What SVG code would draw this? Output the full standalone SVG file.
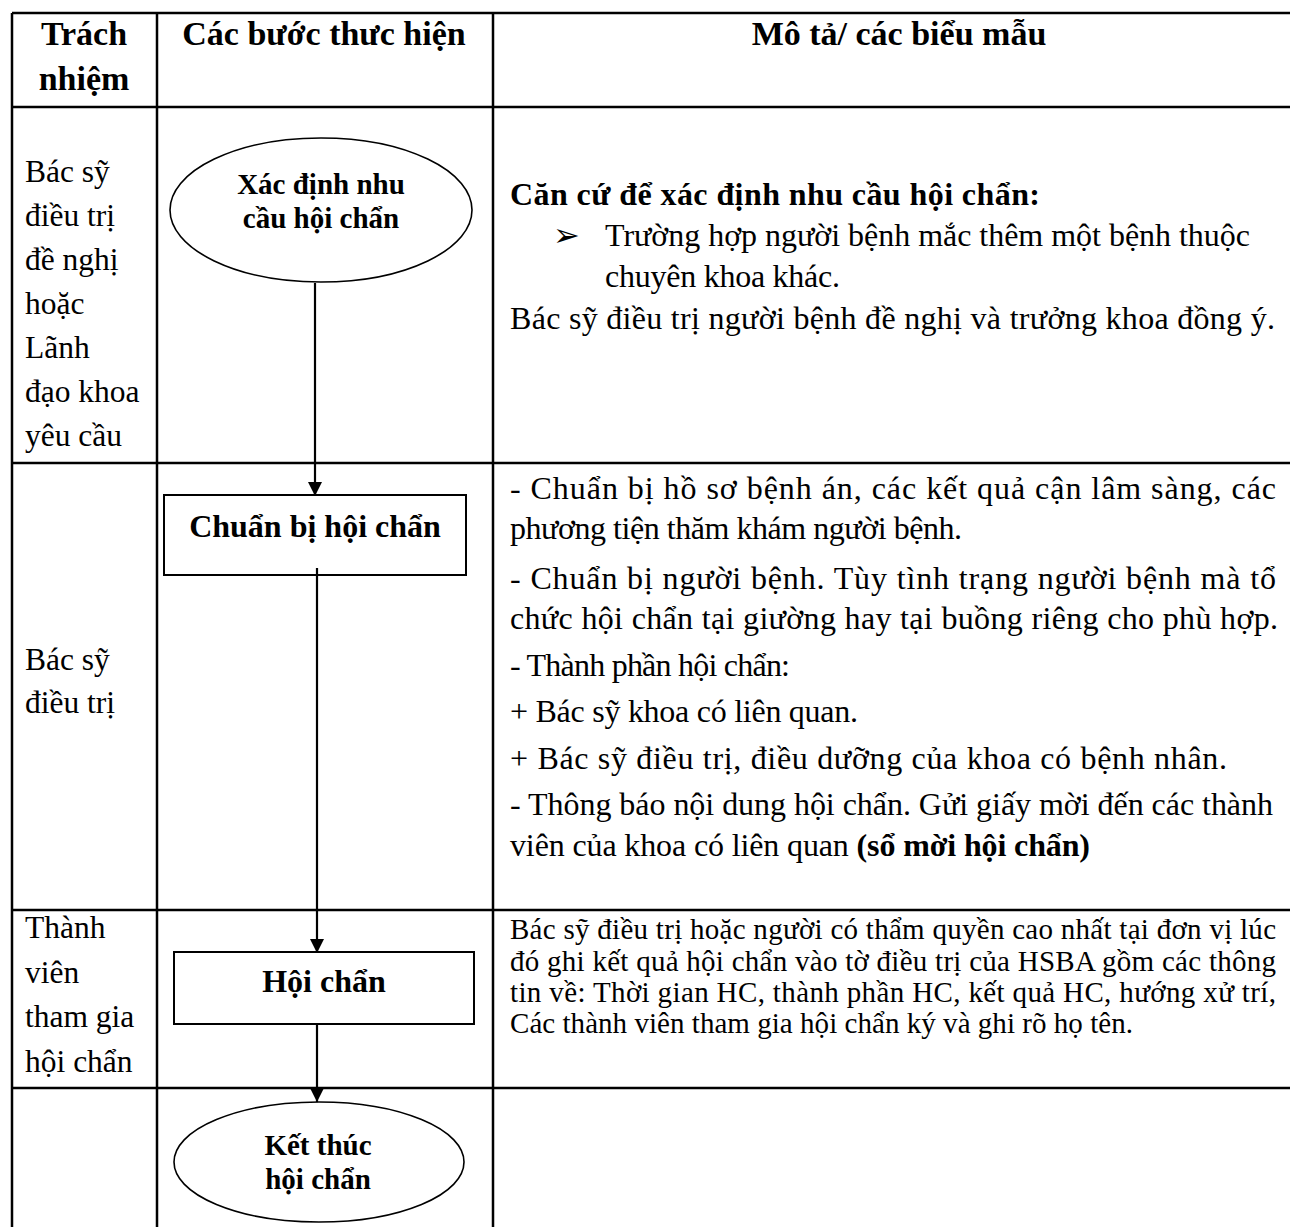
<svg xmlns="http://www.w3.org/2000/svg" width="1290" height="1227" viewBox="0 0 1290 1227">
<defs>
<style>
.grid{stroke:#000;stroke-width:2.5;fill:none}
.shape{stroke:#000;stroke-width:2;fill:none}
.ell{stroke:#000;stroke-width:1.6;fill:none}
.conn{stroke:#000;stroke-width:2.2;fill:none}
text{font-family:"Liberation Serif","Times New Roman",serif;fill:#000}
.hd{font-size:34px;font-weight:bold}
.lane{font-size:31.5px}
.nb{font-size:29px;font-weight:bold;text-anchor:middle}
.bb{font-size:32px;font-weight:bold;text-anchor:middle}
.d{font-size:32px}
.ds{font-size:29px}
</style>
<marker id="ah" viewBox="0 0 10 10" refX="10" refY="5" markerWidth="6.5" markerHeight="6.5" markerUnits="strokeWidth" orient="auto">
<path d="M0,0 L10,5 L0,10 z" fill="#000"/>
</marker>
</defs>
<rect width="1290" height="1227" fill="#fff"/>
<g id="table">
<line class="grid" x1="12" y1="13" x2="1290" y2="13"/>
<line class="grid" x1="12" y1="107" x2="1290" y2="107"/>
<line class="grid" x1="12" y1="463" x2="1290" y2="463"/>
<line class="grid" x1="12" y1="910" x2="1290" y2="910"/>
<line class="grid" x1="12" y1="1088" x2="1290" y2="1088"/>
<line class="grid" x1="12" y1="13" x2="12" y2="1227"/>
<line class="grid" x1="157" y1="13" x2="157" y2="1227"/>
<line class="grid" x1="493" y1="13" x2="493" y2="1227"/>
</g>
<g id="header">
<text class="hd" x="84" y="45" text-anchor="middle">Trách</text>
<text class="hd" x="84" y="90" text-anchor="middle">nhiệm</text>
<text class="hd" x="324" y="45" text-anchor="middle">Các bước thưc hiện</text>
<text class="hd" x="899" y="45" text-anchor="middle">Mô tả/ các biểu mẫu</text>
</g>
<g id="lanes">
<text class="lane" x="25" y="182">Bác sỹ</text>
<text class="lane" x="25" y="226">điều trị</text>
<text class="lane" x="25" y="270">đề nghị</text>
<text class="lane" x="25" y="314">hoặc</text>
<text class="lane" x="25" y="358">Lãnh</text>
<text class="lane" x="25" y="402">đạo khoa</text>
<text class="lane" x="25" y="446">yêu cầu</text>
<text class="lane" x="25" y="670">Bác sỹ</text>
<text class="lane" x="25" y="713">điều trị</text>
<text class="lane" x="25" y="938">Thành</text>
<text class="lane" x="25" y="983">viên</text>
<text class="lane" x="25" y="1027">tham gia</text>
<text class="lane" x="25" y="1072">hội chẩn</text>
</g>
<g id="connectors">
<line class="conn" x1="315" y1="283" x2="315" y2="496" marker-end="url(#ah)"/>
<line class="conn" x1="317" y1="568" x2="317" y2="953" marker-end="url(#ah)"/>
<line class="conn" x1="317" y1="1024" x2="317" y2="1102" marker-end="url(#ah)"/>
</g>
<g id="n1">
<ellipse class="ell" cx="321" cy="210" rx="151" ry="72"/>
<text class="nb" x="321" y="194">Xác định nhu</text>
<text class="nb" x="321" y="228">cầu hội chẩn</text>
</g>
<g id="n2">
<rect class="shape" x="164" y="495" width="302" height="80"/>
<text class="bb" x="315" y="537">Chuẩn bị hội chẩn</text>
</g>
<g id="n3">
<rect class="shape" x="174" y="952" width="300" height="72"/>
<text class="bb" x="324" y="992">Hội chẩn</text>
</g>
<g id="n4">
<ellipse class="ell" cx="319" cy="1162" rx="145" ry="60"/>
<text class="nb" x="318" y="1155">Kết thúc</text>
<text class="nb" x="318" y="1189">hội chẩn</text>
</g>
<g id="desc1">
<text class="d" x="510" y="205" font-weight="bold" textLength="530" lengthAdjust="spacing">Căn cứ để xác định nhu cầu hội chẩn:</text>
<text class="d" x="553" y="246">➢</text>
<text class="d" x="605" y="246" textLength="645" lengthAdjust="spacing">Trường hợp người bệnh mắc thêm một bệnh thuộc</text>
<text class="d" x="605" y="287" textLength="235" lengthAdjust="spacing">chuyên khoa khác.</text>
<text class="d" x="510" y="329" textLength="765" lengthAdjust="spacing">Bác sỹ điều trị người bệnh đề nghị và trưởng khoa đồng ý.</text>
</g>
<g id="desc2">
<text class="d" x="510" y="499" textLength="766" lengthAdjust="spacing">- Chuẩn bị hồ sơ bệnh án, các kết quả cận lâm sàng, các</text>
<text class="d" x="510" y="539" textLength="452" lengthAdjust="spacing">phương tiện thăm khám người bệnh.</text>
<text class="d" x="510" y="589" textLength="766" lengthAdjust="spacing">- Chuẩn bị người bệnh. Tùy tình trạng người bệnh mà tổ</text>
<text class="d" x="510" y="629" textLength="768" lengthAdjust="spacing">chức hội chẩn tại giường hay tại buồng riêng cho phù hợp.</text>
<text class="d" x="510" y="676" textLength="280" lengthAdjust="spacing">- Thành phần hội chẩn:</text>
<text class="d" x="510" y="722" textLength="348" lengthAdjust="spacing">+ Bác sỹ khoa có liên quan.</text>
<text class="d" x="510" y="769" textLength="717" lengthAdjust="spacing">+ Bác sỹ điều trị, điều dưỡng của khoa có bệnh nhân.</text>
<text class="d" x="510" y="815" textLength="763" lengthAdjust="spacing">- Thông báo nội dung hội chẩn. Gửi giấy mời đến các thành</text>
<text class="d" x="510" y="856" textLength="580" lengthAdjust="spacing">viên của khoa có liên quan <tspan font-weight="bold">(sổ mời hội chẩn)</tspan></text>
</g>
<g id="desc3">
<text class="ds" x="510" y="939" textLength="766" lengthAdjust="spacing">Bác sỹ điều trị hoặc người có thẩm quyền cao nhất tại đơn vị lúc</text>
<text class="ds" x="510" y="971" textLength="766" lengthAdjust="spacing">đó ghi kết quả hội chẩn vào tờ điều trị của HSBA gồm các thông</text>
<text class="ds" x="510" y="1002" textLength="766" lengthAdjust="spacing">tin về: Thời gian HC, thành phần HC, kết quả HC, hướng xử trí,</text>
<text class="ds" x="510" y="1033" textLength="623" lengthAdjust="spacing">Các thành viên tham gia hội chẩn ký và ghi rõ họ tên.</text>
</g>
</svg>
